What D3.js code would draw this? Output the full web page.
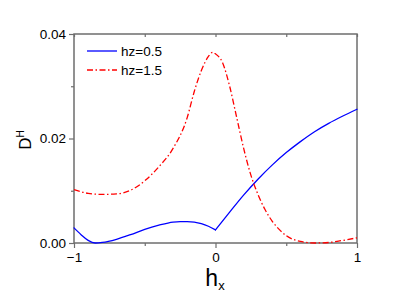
<!DOCTYPE html>
<html><head><meta charset="utf-8">
<script src="https://cdn.jsdelivr.net/npm/d3@7"></script>
<style>body{margin:0;background:#fff}svg{display:block;font-family:"Liberation Sans",Arial,sans-serif}</style>
</head><body><svg id="c" width="415" height="292"></svg>
<script>
const seriesNames = ["hz=0.5", "hz=1.5"];
const hxBlue = [-1,-0.95,-0.9,-0.85,-0.8,-0.7,-0.6,-0.5,-0.4,-0.3,-0.25,-0.2,-0.1,-0.05,0,0.1,0.2,0.3,0.4,0.5,0.6,0.7,0.8,0.9,1.0];
const dBlue  = [0.0029,0.0016,0.0005,0.0000,0.0001,0.0007,0.0016,0.0026,0.0034,0.0040,0.0041,0.0041,0.0037,0.0032,0.0025,0.0059,0.0092,0.0122,0.0149,0.0173,0.0194,0.0213,0.0229,0.0243,0.0256];
const hxRed = [-1,-0.9,-0.8,-0.7,-0.6,-0.5,-0.4,-0.3,-0.2,-0.15,-0.1,-0.05,-0.02,0,0.05,0.1,0.15,0.2,0.25,0.3,0.35,0.4,0.45,0.5,0.6,0.7,0.8,0.9,1.0];
const dRed  = [0.0102,0.0095,0.0093,0.0094,0.0101,0.0119,0.0146,0.0181,0.0240,0.0290,0.0330,0.0357,0.0365,0.0362,0.0345,0.0300,0.0240,0.0180,0.0130,0.0093,0.0064,0.0042,0.0026,0.0014,0.0003,0.0000,0.0001,0.0005,0.0010];
const xTicks = [-1, 0, 1];
const xMinor = [-0.5, 0.5];
const yTicks = [0, 0.02, 0.04];
const yMinor = [0.01, 0.03];

const svg = d3.select("#c");
const L = 74, R = 357, T = 34, B = 243;
const x = d3.scaleLinear().domain([-1, 1]).range([L, R]);
const y = d3.scaleLinear().domain([0, 0.04]).range([B, T]);
const axisCol = "#6e6e6e";

svg.append("rect").attr("x", L).attr("y", T).attr("width", R - L).attr("height", B - T)
  .attr("fill", "none").attr("stroke", axisCol).attr("stroke-width", 1.5);

const xa = svg.append("g").attr("transform", `translate(0,${B})`)
  .call(d3.axisBottom(x).tickValues(xTicks).tickSize(5).tickPadding(4).tickFormat(d3.format("d")));
const xm = svg.append("g").attr("transform", `translate(0,${B})`)
  .call(d3.axisBottom(x).tickValues(xMinor).tickSize(3).tickFormat(""));
const ya = svg.append("g").attr("transform", `translate(${L},0)`)
  .call(d3.axisLeft(y).tickValues(yTicks).tickSize(5).tickPadding(3).tickFormat(d3.format(".2f")));
const ym = svg.append("g").attr("transform", `translate(${L},0)`)
  .call(d3.axisLeft(y).tickValues(yMinor).tickSize(3).tickFormat(""));
const xt = svg.append("g").attr("transform", `translate(0,${T})`)
  .call(d3.axisBottom(x).tickValues(xTicks.concat(xMinor)).tickSize(3).tickFormat(""));
[xa, xm, ya, ym, xt].forEach(g => {
  g.select(".domain").remove();
  g.selectAll(".tick line").attr("stroke", axisCol).attr("stroke-width", 1.2);
  g.selectAll("text").attr("fill", "#000").style("font-size", "13.5px").style("font-family", '"Liberation Sans",Arial,sans-serif');
});

const line = d3.line().x(d => x(d[0])).y(d => y(d[1])).curve(d3.curveMonotoneX);
const bluePts = hxBlue.map((v, i) => [v, dBlue[i]]);
// the blue curve has a cusp at hx = 0: draw each side as its own smooth piece
[bluePts.filter(d => d[0] <= 0), bluePts.filter(d => d[0] >= 0)].forEach(seg => {
  svg.append("path").datum(seg)
    .attr("d", line).attr("fill", "none").attr("stroke", "#0000ff").attr("stroke-width", 1.3)
    .attr("stroke-linecap", "round");
});
svg.append("path").datum(hxRed.map((v, i) => [v, dRed[i]]))
  .attr("d", line).attr("fill", "none").attr("stroke", "#ff0000").attr("stroke-width", 1.3)
  .attr("stroke-dasharray", "6,2.5,1.5,2.5");

const leg = [{c: "#0000ff", dash: null}, {c: "#ff0000", dash: "6,2.5,1.5,2.5"}];
seriesNames.forEach((n, i) => {
  const yy = 51 + i * 19;
  svg.append("line").attr("x1", 87).attr("x2", 117).attr("y1", yy).attr("y2", yy)
    .attr("stroke", leg[i].c).attr("stroke-width", 1.3).attr("stroke-dasharray", leg[i].dash);
  svg.append("text").attr("x", 121).attr("y", yy + 5).attr("font-size", 13.5).text(n);
});

const yl = svg.append("text").attr("transform", "translate(30.5,140) rotate(-90)")
  .attr("text-anchor", "middle").attr("font-size", 17);
yl.append("tspan").text("D");
yl.append("tspan").attr("font-size", 10).attr("dy", -7).text("H");

const xl = svg.append("text").attr("x", 215).attr("y", 286).attr("text-anchor", "middle").attr("font-size", 23);
xl.append("tspan").text("h");
xl.append("tspan").attr("font-size", 13).attr("dy", 4).text("x");
</script></body></html>
